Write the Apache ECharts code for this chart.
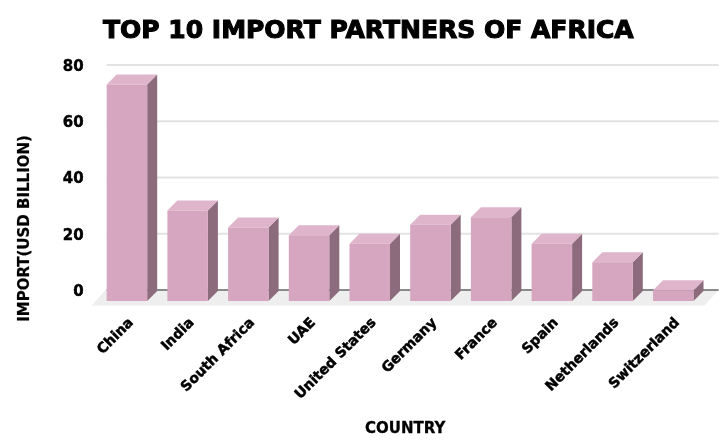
<!DOCTYPE html>
<html><head><meta charset="utf-8">
<style>html,body{margin:0;padding:0;background:#fff}#c{width:719px;height:445px}</style>
<script src="https://cdn.jsdelivr.net/npm/echarts@6/dist/echarts.min.js"></script>
</head><body><div id="c"></div>
<script>
const categories = ["China","India","South Africa","UAE","United States","Germany","France","Spain","Netherlands","Switzerland"];
const imports = [76.6, 31.8, 25.8, 23, 20, 26.8, 29.4, 20, 13.4, 3.5];
const yTicks = [0, 20, 40, 60, 80];
const DEPTH = 10, BARW = 40.5, FRONT = '#d6a5bf', SIDE = '#8c6b7c', TOP = '#dfb5cc';
const font = '"DejaVu Sans", sans-serif';
const heavy = {fontFamily:font,fontWeight:'bold',color:'#000',textBorderColor:'#000'};
const chart = echarts.init(document.getElementById('c'), null, {renderer:'canvas'});
function renderBackdrop(params, api){
  const cs = params.coordSys;
  const y0 = api.coord([0,0])[1];
  const kids = [{type:'polygon',shape:{points:[[cs.x-1,y0],[cs.x+cs.width+5,y0],[cs.x+cs.width-9,y0+15.5],[cs.x-15,y0+15.5]]},style:{fill:'#eeeeee'}}];
  yTicks.forEach(t=>{
    const y = api.coord([0,t])[1];
    kids.push({type:'line',shape:{x1:cs.x,y1:y,x2:cs.x+cs.width+5,y2:y},
      style:{stroke:t===0?'#8a8a8a':'#e3e3e3',lineWidth:2}});
  });
  return {type:'group',children:kids,silent:true};
}
function renderBar(params, api){
  const c = api.coord([api.value(0), api.value(1)]);
  const b = api.coord([api.value(0), 0]);
  const fx1 = c[0]-DEPTH-BARW/2, fx2 = fx1+BARW;
  const top = c[1]+DEPTH, bot = b[1]+11;
  return {type:'group',children:[
    {type:'polygon',shape:{points:[[fx2,top],[fx2+DEPTH,top-DEPTH],[fx2+DEPTH,bot-DEPTH],[fx2,bot]]},style:{fill:SIDE}},
    {type:'polygon',shape:{points:[[fx1,top],[fx1+DEPTH,top-DEPTH],[fx2+DEPTH,top-DEPTH],[fx2,top]]},style:{fill:TOP}},
    {type:'rect',shape:{x:fx1,y:top,width:BARW,height:bot-top},style:{fill:FRONT}}
  ]};
}
chart.setOption({
  animation:false,
  backgroundColor:'#fff',
  title:{text:'TOP 10 IMPORT PARTNERS OF AFRICA',left:98,top:14,textStyle:{...heavy,fontSize:25,textBorderWidth:1.1}},
  grid:{left:106.6,right:5.4,top:65,bottom:155},
  xAxis:{type:'category',data:categories,
    axisLine:{show:false},axisTick:{show:false},
    axisLabel:{interval:0,rotate:45,margin:25,padding:[0,8,0,0],...heavy,fontSize:14,textBorderWidth:0.5},
    name:'COUNTRY',nameLocation:'middle',nameGap:132,
    nameTextStyle:{...heavy,fontSize:15,textBorderWidth:0.3,padding:[0,10,0,0]}},
  yAxis:{type:'value',min:0,max:80,interval:20,
    splitLine:{show:false},axisLine:{show:false},axisTick:{show:false},
    axisLabel:{margin:23,formatter:v=>'{t|'+v+'}',
      rich:{t:{...heavy,fontSize:15,textBorderWidth:0.4,padding:[4,0,0,0]}}},
    name:'IMPORT(USD BILLION)',nameLocation:'middle',nameGap:74,
    nameTextStyle:{...heavy,fontSize:15,textBorderWidth:0.2,padding:[0,102,0,0]}},
  series:[
    {type:'custom',renderItem:renderBackdrop,data:[[categories[0],0]],encode:{x:0,y:1},silent:true,z:1,clip:false},
    {type:'custom',renderItem:renderBar,data:categories.map((c,i)=>[i,imports[i]]),encode:{x:0,y:1},z:2,clip:false}
  ]
});
</script></body></html>
